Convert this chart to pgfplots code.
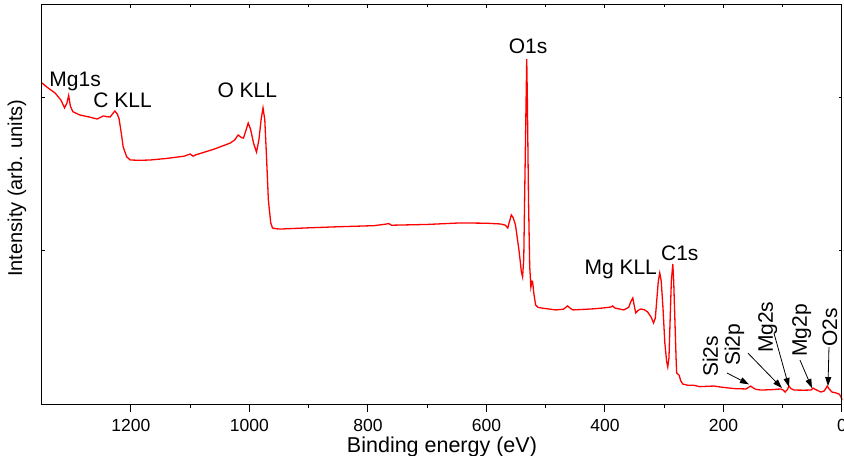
\documentclass[border=0pt]{standalone}
\usepackage{pgfplots}
\pgfplotsset{compat=1.18}
\usepackage{fontspec}
\setmainfont{Liberation Sans}
\usetikzlibrary{arrows.meta}
\begin{document}
\begin{tikzpicture}
\begin{axis}[name=main,
  scale only axis, width=800bp, height=399bp,
  xmin=0, xmax=1350, ymin=0, ymax=2.6, x dir=reverse,
  xtick={0,200,...,1200}, minor x tick num=1,
  xtick pos=bottom, tick align=outside,
  major tick length=8bp, minor tick length=4bp,
  ytick=\empty,
  axis line style={line width=1bp},
  every tick/.style={black, line width=1bp},
  /pgf/number format/assume math mode=true,
  /pgf/number format/1000 sep={},
  ticklabel style={font=\fontsize{17.5bp}{20bp}\selectfont},
  xticklabel style={anchor=base, yshift=-19bp},
  xlabel={Binding energy (eV)},
  xlabel style={font=\fontsize{21.5bp}{24bp}\selectfont, at={(axis description cs:0.5,0)}, anchor=base, yshift=-48bp},
  ylabel={Intensity (arb. units)},
  ylabel style={font=\fontsize{20bp}{24bp}\selectfont, at={(axis description cs:-0.03125,0.541)}, anchor=center},
  clip=false,
]
\addplot[red, line width=1.3bp] coordinates {
(1350,2.092) (1340,2.06) (1328,2.027) (1318,1.98) (1312,1.93) (1308,1.96) (1305,2.01) (1302,1.94) (1298,1.905)
(1286,1.883) (1270,1.87) (1257,1.857) (1250,1.87) (1247,1.877) (1240,1.872) (1235,1.870) (1230,1.895) (1227,1.909)
(1223,1.89) (1220,1.860) (1216,1.76) (1213,1.675) (1207,1.61) (1201,1.590) (1185,1.588) (1167,1.590) (1140,1.60)
(1110,1.615) (1100,1.629) (1095,1.615) (1091,1.623) (1060,1.66) (1032,1.701) (1025,1.72) (1019,1.753) (1013,1.735)
(1010,1.733) (1006,1.78) (1002,1.831) (998,1.79) (993,1.70) (988,1.642) (984,1.72) (980,1.86) (977,1.929) (974,1.85)
(971,1.60) (968,1.33) (964,1.18) (961,1.147) (955,1.142) (948,1.140) (900,1.148) (850,1.155) (790,1.162) (770,1.172)
(765,1.176) (760,1.165) (700,1.170) (644,1.180) (600,1.178) (576,1.173) (568,1.165) (564,1.147) (561,1.19) (558,1.232)
(555,1.215) (551,1.166) (545,1.00) (541,0.86) (539,0.828) (537,0.95) (535.5,1.35) (533,2.0) (532,2.248) (531,2.0)
(529,1.33) (527,0.90) (525,0.762) (523,0.80) (522,0.795) (520,0.72) (517,0.645) (513,0.630) (508,0.626) (483,0.613)
(470,0.618) (463,0.639) (458,0.622) (454,0.613) (420,0.620) (402,0.626) (390,0.632) (387,0.639) (383,0.625) (368,0.613)
(360,0.63) (356,0.67) (353,0.691) (350,0.63) (348,0.593) (344,0.610) (340,0.619) (334,0.615) (328,0.600) (322,0.565)
(318,0.528) (315,0.56) (312.5,0.68) (310,0.80) (307.5,0.854) (305,0.80) (302,0.62) (299,0.40) (296,0.28) (294,0.241)
(292,0.30) (290,0.55) (288,0.80) (285.5,0.912) (284,0.80) (282,0.55) (280,0.30) (279,0.202) (277,0.195) (275,0.189)
(272,0.150) (268.6,0.130) (260,0.122) (250,0.122) (240,0.113) (230,0.115) (216,0.117) (200,0.108) (180,0.100)
(162,0.098) (157,0.110) (154,0.117) (150,0.105) (145,0.095) (137,0.091) (120,0.093) (103,0.098) (99,0.090) (96,0.078)
(92,0.095) (89.5,0.117) (86,0.10) (81,0.091) (65,0.090) (52,0.091) (49,0.104) (45,0.095) (35.5,0.078) (30,0.085)
(26,0.110) (25,0.117) (22,0.10) (17,0.078) (10,0.072) (5,0.065) (2,0.05) (0,0.026)
};
\tikzset{pk/.style={font=\fontsize{21bp}{24bp}\selectfont, anchor=base, inner sep=0pt}}
\node[pk] at (axis cs:1294.1,2.072) {Mg1s};
\node[pk] at (axis cs:1213.9,1.935) {C KLL};
\node[pk] at (axis cs:1003.5,1.994) {O KLL};
\node[pk] at (axis cs:529.7,2.287) {O1s};
\node[pk] at (axis cs:373.4,0.841) {Mg KLL};
\node[pk] at (axis cs:273.7,0.932) {C1s};
\tikzset{rk/.style={font=\fontsize{21bp}{24bp}\selectfont, anchor=base west, rotate=90, inner sep=0pt}}
\node[rk] at (axis cs:209.5,0.176) {Si2s};
\node[rk] at (axis cs:172.3,0.248) {Si2p};
\node[rk] at (axis cs:116.6,0.332) {Mg2s};
\node[rk] at (axis cs:59.1,0.306) {Mg2p};
\node[rk] at (axis cs:8.4,0.371) {O2s};
\tikzset{ar/.style={-{Triangle[length=9bp,width=6bp]}, line width=0.8bp, black}}
\draw[ar] (axis cs:194,0.202) -- (axis cs:157,0.128);
\draw[ar] (axis cs:158.8,0.332) -- (axis cs:101.4,0.104);
\draw[ar] (axis cs:114.9,0.463) -- (axis cs:89.5,0.111);
\draw[ar] (axis cs:71,0.287) -- (axis cs:50.7,0.104);
\draw[ar] (axis cs:21.96,0.371) -- (axis cs:23.65,0.117);
\end{axis}
\begin{axis}[
  scale only axis, width=800bp, height=399bp,
  xmin=0, xmax=1350, ymin=0, ymax=2.6, x dir=reverse,
  xtick={0,200,...,1200}, minor x tick num=1,
  xtick pos=top, tick align=inside,
  ytick={1,2},
  major tick length=3bp, minor tick length=2bp,
  xticklabels={}, yticklabels={},
  axis line style={line width=1bp},
  every tick/.style={black, line width=1bp},
]
\end{axis}
\pgfresetboundingbox
\path ([shift={(-42bp,-52bp)}]main.south west) rectangle ([shift={(2bp,5bp)}]main.north east);
\end{tikzpicture}
\end{document}
